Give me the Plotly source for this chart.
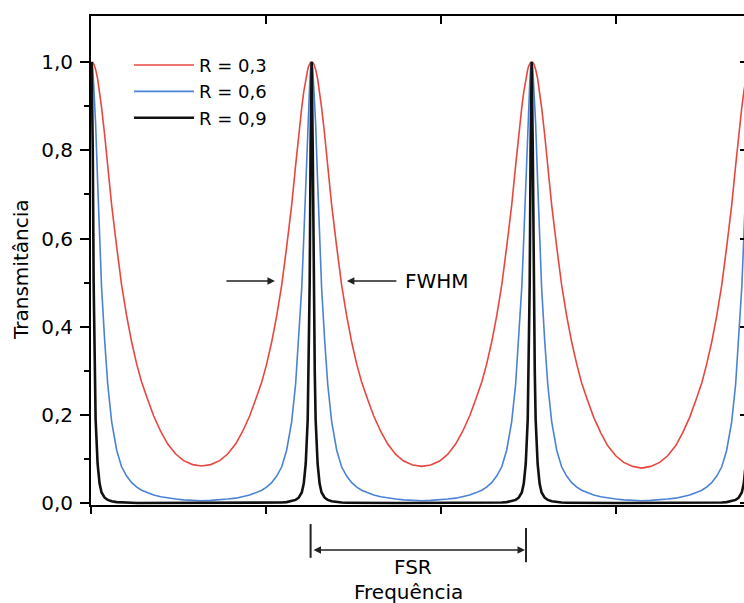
import plotly.graph_objects as go

# frequência normalizada pelo FSR (picos em 0, 1, 2, 3)
freq = [
    0, .005, .009, .014, .018, .027, .036, .045, .059, .073, .091, .114, .136, .159, .182, .205, .227, .255, .282, .314, .345, .382, .418, .459, .5,
    .541, .582, .618, .655, .686, .718, .745, .773, .795, .818, .841, .864, .886, .909, .927, .941, .955, .964, .973, .982, .986, .991, .995, 1.0,
    1.005, 1.009, 1.014, 1.018, 1.027, 1.036, 1.045, 1.059, 1.073, 1.091, 1.114, 1.136, 1.159, 1.182, 1.205, 1.227, 1.255, 1.282, 1.314, 1.345, 1.382, 1.418, 1.459, 1.5,
    1.541, 1.582, 1.618, 1.655, 1.686, 1.718, 1.745, 1.773, 1.795, 1.818, 1.841, 1.864, 1.886, 1.909, 1.927, 1.941, 1.955, 1.964, 1.973, 1.982, 1.986, 1.991, 1.995, 2.0,
    2.005, 2.009, 2.014, 2.018, 2.027, 2.036, 2.045, 2.059, 2.073, 2.091, 2.114, 2.136, 2.159, 2.182, 2.205, 2.227, 2.255, 2.282, 2.314, 2.345, 2.382, 2.418, 2.459, 2.5,
    2.541, 2.582, 2.618, 2.655, 2.686, 2.718, 2.745, 2.773, 2.795, 2.818, 2.841, 2.864, 2.886, 2.909, 2.927, 2.941, 2.955, 2.964, 2.973, 2.982, 2.986, 2.991, 2.995, 3.0,
]

t_r03 = [
    1.0, .999, .996, .99, .983, .962, .932, .897, .835, .765, .675, .58, .495, .425, .365, .315, .275, .235, .198, .163, .135, .112, .097, .088, .085,
    .088, .097, .112, .135, .163, .198, .235, .275, .315, .365, .425, .495, .58, .675, .765, .835, .897, .932, .962, .983, .99, .996, .999, 1.0,
    .999, .996, .99, .983, .962, .932, .897, .835, .765, .675, .58, .495, .425, .365, .315, .275, .235, .198, .163, .135, .111, .096, .087, .084,
    .087, .096, .111, .135, .163, .198, .235, .275, .315, .365, .425, .495, .58, .675, .765, .835, .897, .932, .962, .983, .99, .996, .999, 1.0,
    .999, .996, .99, .983, .962, .932, .897, .835, .765, .675, .58, .495, .425, .365, .315, .273, .232, .195, .16, .131, .108, .093, .084, .08,
    .084, .093, .108, .131, .16, .195, .232, .273, .315, .365, .425, .495, .58, .675, .765, .835, .897, .932, .962, .983, .99, .996, .999, 1.0,
]

t_r06 = [
    1.0, .985, .95, .9, .86, .73, .6, .49, .37, .27, .185, .12, .083, .062, .047, .037, .03, .024, .019, .015, .012, .01, .008, .007, .006,
    .007, .008, .01, .012, .015, .019, .024, .03, .037, .047, .062, .083, .12, .185, .27, .37, .49, .6, .73, .86, .9, .95, .985, 1.0,
    .985, .95, .9, .86, .73, .6, .49, .37, .27, .185, .12, .083, .062, .047, .037, .03, .024, .019, .015, .012, .01, .008, .007, .006,
    .007, .008, .01, .012, .015, .019, .024, .03, .037, .047, .062, .083, .12, .185, .27, .37, .49, .6, .73, .86, .9, .95, .985, 1.0,
    .985, .95, .9, .86, .73, .6, .49, .37, .27, .185, .12, .083, .062, .047, .037, .03, .024, .019, .015, .012, .01, .008, .007, .006,
    .007, .008, .01, .012, .015, .019, .024, .03, .037, .047, .062, .083, .12, .185, .27, .37, .49, .6, .73, .86, .9, .95, .985, 1.0,
]

t_r09 = [
    1.0, .8, .5, .3, .19, .09, .045, .025, .013, .008, .005, .003, .002, .0017, .0015, .001, .001, .001, .001, .001, .001, .001, .001, .001, .001,
    .001, .001, .001, .001, .001, .001, .001, .001, .001, .0015, .0017, .002, .003, .005, .008, .013, .025, .045, .09, .19, .3, .5, .8, 1.0,
    .8, .5, .3, .19, .09, .045, .025, .013, .008, .005, .003, .002, .0017, .0015, .001, .001, .001, .001, .001, .001, .001, .001, .001, .001,
    .001, .001, .001, .001, .001, .001, .001, .001, .001, .0015, .0017, .002, .003, .005, .008, .013, .025, .045, .09, .19, .3, .5, .8, 1.0,
    .8, .5, .3, .19, .09, .045, .025, .013, .008, .005, .003, .002, .0017, .0015, .001, .001, .001, .001, .001, .001, .001, .001, .001, .001,
    .001, .001, .001, .001, .001, .001, .001, .001, .001, .0015, .0017, .002, .003, .005, .008, .013, .025, .045, .09, .19, .3, .5, .8, 1.0,
]

series = [
    ('R = 0,3', t_r03, '#e8463f', 1.6),
    ('R = 0,6', t_r06, '#4b82d6', 1.6),
    ('R = 0,9', t_r09, '#111111', 2.6),
]

FONT = 'DejaVu Sans'

fig = go.Figure()
for nome, vals, cor, lw in series:
    fig.add_trace(go.Scatter(
        x=freq, y=vals, name=nome, mode='lines',
        line=dict(color=cor, width=lw),
    ))

# eixo de cima / direita só para os ticks espelhados (para dentro)
fig.add_trace(go.Scatter(x=[None], y=[None], xaxis='x2', yaxis='y2', showlegend=False, hoverinfo='skip'))

x_range = [-0.003, 2.965]
y_range = [-0.0035, 1.104]

fig.update_layout(
    width=744, height=603,
    margin=dict(l=91, r=0, t=16, b=98),
    paper_bgcolor='white', plot_bgcolor='white',
    separators=', ',
    font=dict(family=FONT, size=20, color='black'),
    xaxis=dict(
        range=x_range, showline=True, linewidth=2, linecolor='black',
        ticks='outside', ticklen=7, tickwidth=2, tickcolor='black',
        tick0=-0.003, dtick=0.795, showticklabels=False,
        showgrid=False, zeroline=False,
    ),
    yaxis=dict(
        range=y_range, showline=True, linewidth=2, linecolor='black',
        ticks='outside', ticklen=9, tickwidth=2, tickcolor='black',
        tick0=0, dtick=0.2, tickformat='.1f', ticklabelstandoff=3,
        tickfont=dict(family=FONT, size=20),
        minor=dict(ticks='outside', ticklen=5, tickwidth=1.5, tickvals=[0.1, 0.3, 0.5, 0.7, 0.9],
                   tickcolor='black'),
        showgrid=False, zeroline=False,
    ),
    xaxis2=dict(
        range=x_range, overlaying='x', side='top', anchor='y',
        showline=True, linewidth=2, linecolor='black',
        ticks='inside', ticklen=8, tickwidth=2, tickcolor='black',
        tick0=-0.003, dtick=0.795, showticklabels=False,
        showgrid=False, zeroline=False,
    ),
    yaxis2=dict(
        range=y_range, overlaying='y', side='right', anchor='x',
        showline=False, ticks='inside', ticklen=4, tickwidth=2, tickcolor='black',
        tick0=0, dtick=0.2, showticklabels=False,
        showgrid=False, zeroline=False,
    ),
    legend=dict(
        x=0.0582, y=0.937, xanchor='left', yanchor='top',
        bgcolor='rgba(0,0,0,0)', borderwidth=0,
        font=dict(family=FONT, size=18), itemwidth=60,
        tracegroupgap=0,
    ),
    showlegend=True,
)

# título do eixo y
fig.add_annotation(
    text='Transmitância', xref='paper', yref='paper', x=-0.1072, y=0.4806,
    xanchor='center', yanchor='middle',
    textangle=-90, showarrow=False, font=dict(family=FONT, size=20),
)
# título do eixo x
fig.add_annotation(
    text='Frequência', xref='paper', yref='paper', x=0.4855, y=-0.178,
    xanchor='center', yanchor='middle',
    showarrow=False, font=dict(family=FONT, size=20),
)

# FWHM
fig.add_annotation(
    x=0.833, y=0.504, ax=-50, ay=0, text='', showarrow=True,
    arrowhead=2, arrowsize=1, arrowwidth=1.5, arrowcolor='#222',
)
fig.add_annotation(
    x=1.160, y=0.504, ax=51, ay=0, text='', showarrow=True,
    arrowhead=2, arrowsize=1, arrowwidth=1.5, arrowcolor='#222',
)
fig.add_annotation(
    x=1.414, y=0.504, xanchor='left', yanchor='middle', text='FWHM', showarrow=False,
    font=dict(family=FONT, size=20),
)

# FSR
fig.add_shape(type='line', xref='paper', yref='paper', x0=0.3363, x1=0.3363, y0=-0.039, y1=-0.108,
              line=dict(color='#222', width=2))
fig.add_shape(type='line', xref='paper', yref='paper', x0=0.6662, x1=0.6662, y0=-0.047, y1=-0.117,
              line=dict(color='#222', width=2))
fig.add_annotation(
    xref='paper', yref='paper', x=0.6646, y=-0.092, axref='pixel', ayref='pixel', ax=-213, ay=0,
    text='', showarrow=True, arrowside='end+start', arrowhead=2, startarrowhead=2,
    arrowsize=1, startarrowsize=1, arrowwidth=1.5, arrowcolor='#222',
)
fig.add_annotation(
    text='FSR', xref='paper', yref='paper', x=0.4931, y=-0.127,
    xanchor='center', yanchor='middle',
    showarrow=False, font=dict(family=FONT, size=20),
)

# sem a margem padrão do <body>, a figura ocupa a janela inteira
fig.write_html('out.html', config={'displayModeBar': False},
               post_script="document.body.style.margin='0';")
